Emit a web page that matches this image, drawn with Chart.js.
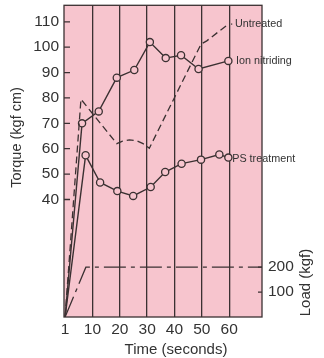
<!DOCTYPE html>
<html>
<head>
<meta charset="utf-8">
<script src="https://cdn.jsdelivr.net/npm/chart.js@4"></script>
<style>
  body { margin: 0; background: #fff; }
  canvas { display: block; }
</style>
</head>
<body>
<canvas id="torqueChart" width="324" height="358"></canvas>
<script>
// values (time in seconds, torque in kgf cm, load in kgf)
const untreatedTime = [0, 5.8, 18.9, 21, 23.5, 26, 28.5, 30.8, 49.7, 51.8, 59.7];
const untreatedTorque = [-6.3, 79.5, 62, 63, 63.5, 63.2, 62, 60.2, 101.2, 102.5, 109.1];

const ionTime = [0, 6.2, 12.3, 18.9, 25.3, 31.0, 36.8, 42.4, 48.8, 59.7];
const ionTorque = [-6.3, 70, 74.7, 88, 91, 102, 95.7, 96.8, 91.4, 94.6];

const psTime = [0, 7.5, 12.8, 19.1, 24.9, 31.3, 36.6, 42.6, 49.7, 56.4, 59.7];
const psTorque = [-6.3, 57.4, 46.7, 43.3, 41.4, 44.9, 50.8, 54.1, 55.7, 57.7, 56.5];

const loadTime = [0, 7.6, 72];
const loadKgf = [0, 200, 200];

const timeTicks = [0, 10, 20, 30, 40, 50, 60];
const timeTickLabels = ['1', '10', '20', '30', '40', '50', '60'];
const torqueTicks = [40, 50, 60, 70, 80, 90, 100, 110];
const loadTicks = [100, 200];

// line end labels: [text, time, torque]
const seriesLabels = [
  ['Untreated', 62.1, 109.1],
  ['Ion nitriding', 62.5, 94.7],
  ['PS treatment', 61.1, 56.1]
];

const ink = '#3b3132';
const pink = '#f7c5ce';
const font = '"Liberation Sans", Arial, Helvetica, sans-serif';

function pts(xs, ys) {
  return xs.map((x, i) => ({ x: x, y: ys[i] }));
}

function fixSize(prop, val) {
  return function (scale) {
    scale[prop] = val;
    scale.paddingTop = 0; scale.paddingBottom = 0;
    scale.paddingLeft = 0; scale.paddingRight = 0;
  };
}

const markerRadius = (ctx) => ctx.dataIndex === 0 ? 0 : 3.6;

const frame = {
  id: 'frame',
  beforeDraw(chart) {
    const a = chart.chartArea, c = chart.ctx;
    c.save();
    c.fillStyle = pink;
    c.fillRect(a.left, a.top, a.right - a.left, a.bottom - a.top);
    c.restore();
  },
  beforeDatasetsDraw(chart) {
    const a = chart.chartArea, c = chart.ctx;
    const y = chart.scales.y, y2 = chart.scales.y2;
    c.save();
    c.strokeStyle = ink;
    c.lineWidth = 1.3;
    c.strokeRect(a.left, a.top, a.right - a.left, a.bottom - a.top);
    c.beginPath();
    torqueTicks.forEach(v => {
      const py = y.getPixelForValue(v);
      c.moveTo(a.left, py); c.lineTo(a.left + 6, py);
    });
    loadTicks.forEach(v => {
      const py = y2.getPixelForValue(v);
      c.moveTo(a.right - 4, py); c.lineTo(a.right, py);
    });
    c.stroke();
    c.restore();
  },
  afterDraw(chart) {
    const c = chart.ctx;
    const x = chart.scales.x, y = chart.scales.y;
    c.save();
    c.fillStyle = '#333';
    c.textBaseline = 'middle';
    c.font = '10.8px ' + font;
    c.textAlign = 'left';
    seriesLabels.forEach(l => {
      c.fillText(l[0], x.getPixelForValue(l[1]), y.getPixelForValue(l[2]));
    });
    // small leader dot in front of "Untreated"
    c.fillRect(x.getPixelForValue(60.9) - 0.6, y.getPixelForValue(109.1) - 0.6, 1.2, 1.2);

    // axis titles
    c.textAlign = 'center';
    c.font = '15px ' + font;
    c.fillText('Time (seconds)', 176, 350);
    c.save();
    c.translate(16.5, 137.5);
    c.rotate(-Math.PI / 2);
    c.font = '14.5px ' + font;
    c.fillText('Torque (kgf cm)', 0, 0);
    c.restore();
    c.save();
    c.translate(306, 282.5);
    c.rotate(-Math.PI / 2);
    c.fillText('Load (kgf)', 0, 0);
    c.restore();
    c.restore();
  }
};

const chart = new Chart(document.getElementById('torqueChart'), {
  type: 'line',
  data: {
    datasets: [
      {
        label: 'Untreated',
        data: pts(untreatedTime, untreatedTorque),
        borderColor: ink,
        borderWidth: 1.3,
        borderDash: [7, 4],
        pointRadius: 0,
        yAxisID: 'y'
      },
      {
        label: 'Ion nitriding',
        data: pts(ionTime, ionTorque),
        borderColor: ink,
        borderWidth: 1.4,
        pointRadius: markerRadius,
        pointBackgroundColor: pink,
        pointBorderColor: ink,
        pointBorderWidth: 1.3,
        yAxisID: 'y'
      },
      {
        label: 'PS treatment',
        data: pts(psTime, psTorque),
        borderColor: ink,
        borderWidth: 1.4,
        pointRadius: markerRadius,
        pointBackgroundColor: pink,
        pointBorderColor: ink,
        pointBorderWidth: 1.3,
        yAxisID: 'y'
      },
      {
        label: 'Load',
        data: pts(loadTime, loadKgf),
        borderColor: ink,
        borderWidth: 1.3,
        borderDash: [22, 5, 4, 5],
        pointRadius: 0,
        yAxisID: 'y2'
      }
    ]
  },
  options: {
    responsive: false,
    animation: false,
    devicePixelRatio: 1,
    layout: { padding: { top: 4.5, left: 0, right: 0, bottom: 0 } },
    plugins: {
      legend: { display: false },
      tooltip: { enabled: false }
    },
    elements: { line: { tension: 0 } },
    scales: {
      x: {
        type: 'linear',
        position: 'bottom',
        min: -0.4,
        max: 72,
        afterBuildTicks: (s) => { s.ticks = timeTicks.map(v => ({ value: v })); },
        afterFit: fixSize('height', 41),
        ticks: {
          color: '#333',
          padding: 3,
          maxRotation: 0,
          autoSkip: false,
          font: { family: font, size: 15.5 },
          callback: (v) => timeTickLabels[timeTicks.indexOf(v)]
        },
        grid: {
          drawTicks: false,
          lineWidth: 1.3,
          color: (ctx) => (ctx.tick && ctx.tick.value === 0) ? 'rgba(0,0,0,0)' : ink
        },
        border: { display: false }
      },
      y: {
        position: 'left',
        min: -6.3,
        max: 116.5,
        afterBuildTicks: (s) => { s.ticks = torqueTicks.map(v => ({ value: v })); },
        afterFit: fixSize('width', 64),
        ticks: {
          color: '#333',
          padding: 5,
          font: { family: font, size: 15.5 }
        },
        grid: { display: false, drawTicks: false },
        border: { display: false }
      },
      y2: {
        position: 'right',
        min: 0,
        max: 1251,
        afterBuildTicks: (s) => { s.ticks = loadTicks.map(v => ({ value: v })); },
        afterFit: fixSize('width', 62),
        ticks: {
          color: '#333',
          padding: 6,
          font: { family: font, size: 15.5 }
        },
        grid: { display: false, drawTicks: false },
        border: { display: false }
      }
    }
  },
  plugins: [frame]
});
</script>
</body>
</html>
